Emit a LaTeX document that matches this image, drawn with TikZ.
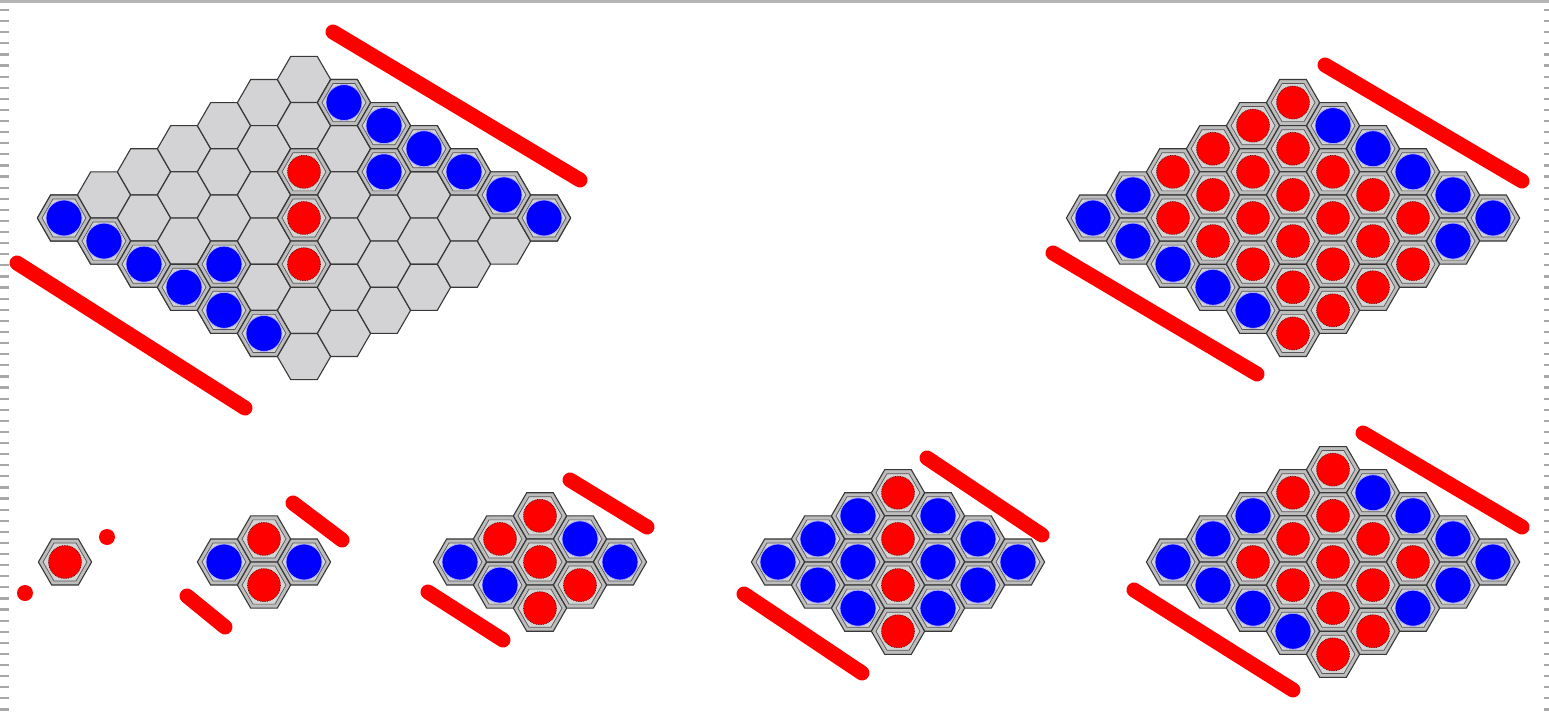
\documentclass[tikz,border=0pt]{standalone}
\definecolor{hexgray}{HTML}{D3D3D5}
\definecolor{hexline}{HTML}{383838}
\definecolor{ringband}{HTML}{BDBDBD}
\definecolor{ringin}{HTML}{D4D4D4}
\definecolor{stonered}{HTML}{FF0000}
\definecolor{stoneblue}{HTML}{0000FF}
\definecolor{tickgray}{HTML}{A8A8A8}
\definecolor{topgray}{HTML}{B4B4B4}
\tikzset{
  hexcell/.style={fill=hexgray, draw=hexline, line width=1.1pt},
  ringouter/.style={fill=ringband, draw=hexline, line width=1.1pt},
  ringinner/.style={fill=ringin, draw=hexline!85, line width=0.7pt},
  redstone/.style={fill=stonered, draw=red!35!black, line width=0.7pt, densely dotted},
  bluestone/.style={fill=stoneblue, draw=blue!30!white, line width=0.8pt},
  redbar/.style={draw=stonered, line width=15pt, line cap=round},
  ticks/.style={draw=tickgray, dash pattern=on 2.2pt off 8.9pt},
}
\newcommand\hexplain[2]{\draw[hexcell] ({#1},{#2}) +(0:26.6) -- +(60:26.6) -- +(120:26.6) -- +(180:26.6) -- +(240:26.6) -- +(300:26.6) -- cycle;}
\newcommand\hexring[2]{%
  \draw[ringouter] ({#1},{#2}) +(0:26.6) -- +(60:26.6) -- +(120:26.6) -- +(180:26.6) -- +(240:26.6) -- +(300:26.6) -- cycle;
  \draw[ringinner] ({#1},{#2}) +(0:22) -- +(60:22) -- +(120:22) -- +(180:22) -- +(240:22) -- +(300:22) -- cycle;}
\newcommand\bluecells[3]{\foreach \i/\j in {#3}{%
  \hexring{#1+40*(\i+\j)}{#2+23.09*(\i-\j)}
  \draw[bluestone] ({#1+40*(\i+\j)},{#2+23.09*(\i-\j)}) circle[radius=18];}}
\newcommand\redcells[3]{\foreach \i/\j in {#3}{%
  \hexring{#1+40*(\i+\j)}{#2+23.09*(\i-\j)}
  \draw[redstone] ({#1+40*(\i+\j)},{#2+23.09*(\i-\j)}) circle[radius=16.5];}}
\begin{document}
\begin{tikzpicture}[x=1pt,y=-1pt]
\useasboundingbox (0,0) rectangle (1549,719);
\fill[white] (0,0) rectangle (1549,719);
% frame
\draw[draw=topgray, line width=3pt] (0,2) -- (1549,2);
\draw[ticks, line width=9pt] (4.5,9) -- (4.5,716);
\draw[ticks, line width=5pt] (1546.7,9) -- (1546.7,716);

% big board (7x7)
\foreach \i in {0,...,6}{\foreach \j in {0,...,6}{\hexplain{64+40*(\i+\j)}{218+23.09*(\i-\j)}}}
\bluecells{64}{218}{0/0,1/0,2/0,3/0,4/0,5/0,3/1,1/6,2/6,3/6,4/6,5/6,6/6,3/5}
\redcells{64}{218}{2/4,3/3,4/2}
\draw[redbar] (333,32) -- (580,180);
\draw[redbar] (17,263) -- (245,408);

% top right board (6x6)
\bluecells{1093}{218}{0/0,0/1,1/0,2/0,3/0,4/0,1/5,2/5,3/5,4/5,5/5,5/4}
\redcells{1093}{218}{0/2,0/3,0/4,0/5,1/1,1/2,1/3,1/4,2/1,2/2,2/3,2/4,3/1,3/2,3/3,3/4,4/1,4/2,4/3,4/4,5/0,5/1,5/2,5/3}
\draw[redbar] (1325,65) -- (1522,181);
\draw[redbar] (1053,253) -- (1257,374);

% bottom board 1
\redcells{65}{562}{0/0}
\fill[stonered] (107,537) circle[radius=8];
\fill[stonered] (25,593) circle[radius=8];

% bottom board 2
\bluecells{224}{562}{0/0,1/1}
\redcells{224}{562}{0/1,1/0}
\draw[redbar] (293,503) -- (342,540);
\draw[redbar] (187,596) -- (225,627);

% bottom board 3
\bluecells{460}{562}{0/0,1/0,1/2,2/2}
\redcells{460}{562}{0/1,0/2,1/1,2/1,2/0}
\draw[redbar] (570,480) -- (647,527);
\draw[redbar] (428,592) -- (503,640);

% bottom board 4
\bluecells{778}{562}{0/0,0/1,0/2,1/3,2/3,3/3,1/1,2/2,1/0,3/2,2/0,3/1}
\redcells{778}{562}{0/3,1/2,2/1,3/0}
\draw[redbar] (927,458) -- (1042,535);
\draw[redbar] (744,594) -- (862,673);

% bottom board 5
\bluecells{1173}{562}{0/0,0/1,0/2,1/4,2/4,3/4,4/4,1/0,4/3,2/0,4/2,3/0}
\redcells{1173}{562}{0/3,0/4,1/1,1/2,1/3,2/3,3/3,2/1,2/2,3/2,3/1,4/1,4/0}
\draw[redbar] (1363,433) -- (1522,527);
\draw[redbar] (1134,590) -- (1293,690);
\end{tikzpicture}
\end{document}
